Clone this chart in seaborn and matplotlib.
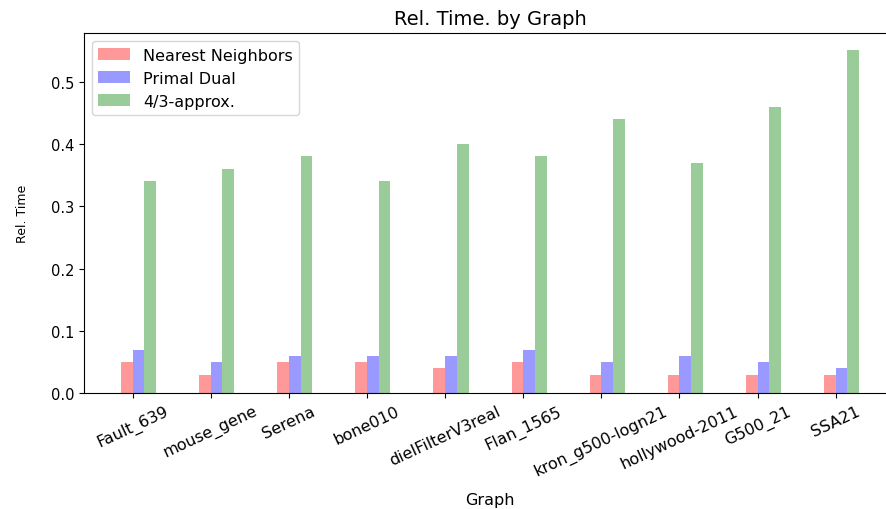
import numpy as np
import pandas as pd
import matplotlib
matplotlib.use("Agg")
import matplotlib.pyplot as plt
import seaborn as sns

# --- DATA ---
graphs = ["Fault_639", "mouse_gene", "Serena", "bone010", "dielFilterV3real",
          "Flan_1565", "kron_g500-logn21", "hollywood-2011", "G500_21", "SSA21"]
methods = ["Nearest Neighbors", "Primal Dual", "4/3-approx."]
nearest_neighbors = [0.05, 0.03, 0.05, 0.05, 0.04, 0.05, 0.03, 0.03, 0.03, 0.03]
primal_dual = [0.07, 0.05, 0.06, 0.06, 0.06, 0.07, 0.05, 0.06, 0.05, 0.04]
approx_43 = [0.34, 0.36, 0.38, 0.34, 0.40, 0.38, 0.44, 0.37, 0.46, 0.55]

df = pd.DataFrame({
    "Graph": graphs * 3,
    "method": [methods[0]] * len(graphs) + [methods[1]] * len(graphs) + [methods[2]] * len(graphs),
    "rel_time": nearest_neighbors + primal_dual + approx_43,
})

# red / blue / green at alpha 0.4 over white
palette = ["#ff9999", "#9999ff", "#99cc99"]

fig = plt.figure(figsize=(8.87, 5.1), dpi=100)
# axes runs slightly past the right edge (right spine cut off in the original)
ax = fig.add_axes([0.0947, 0.2269, 0.9155, 0.7059])

sns.barplot(data=df, x="Graph", y="rel_time", hue="method", hue_order=methods,
            palette=palette, saturation=1, width=0.45, linewidth=0, ax=ax)

n = len(graphs)
bar_w = 0.15
lo, hi = -1.5 * bar_w, n - 1 + 1.5 * bar_w
pad = 0.05 * (hi - lo)
ax.set_xlim(lo - pad, hi + pad)
ax.set_ylim(0, max(approx_43) * 1.05)
ax.spines["right"].set_visible(False)

# ticks sit between the first and second bar of each group
ax.set_xticks(np.arange(n) - bar_w / 2, labels=graphs, rotation=25, fontsize=11.5)
ax.tick_params(axis="y", labelsize=10.5)
ax.set_yticks([0.0, 0.1, 0.2, 0.3, 0.4, 0.5])

ax.set_title("Rel. Time. by Graph", fontsize=14, pad=7)
ax.set_xlabel("Graph", fontsize=11.5, labelpad=9)
ax.set_ylabel("Rel. Time", fontsize=9, labelpad=16)

sns.move_legend(ax, "upper left", title=None, fontsize=11.5)

fig.savefig("out.png", dpi=100)
